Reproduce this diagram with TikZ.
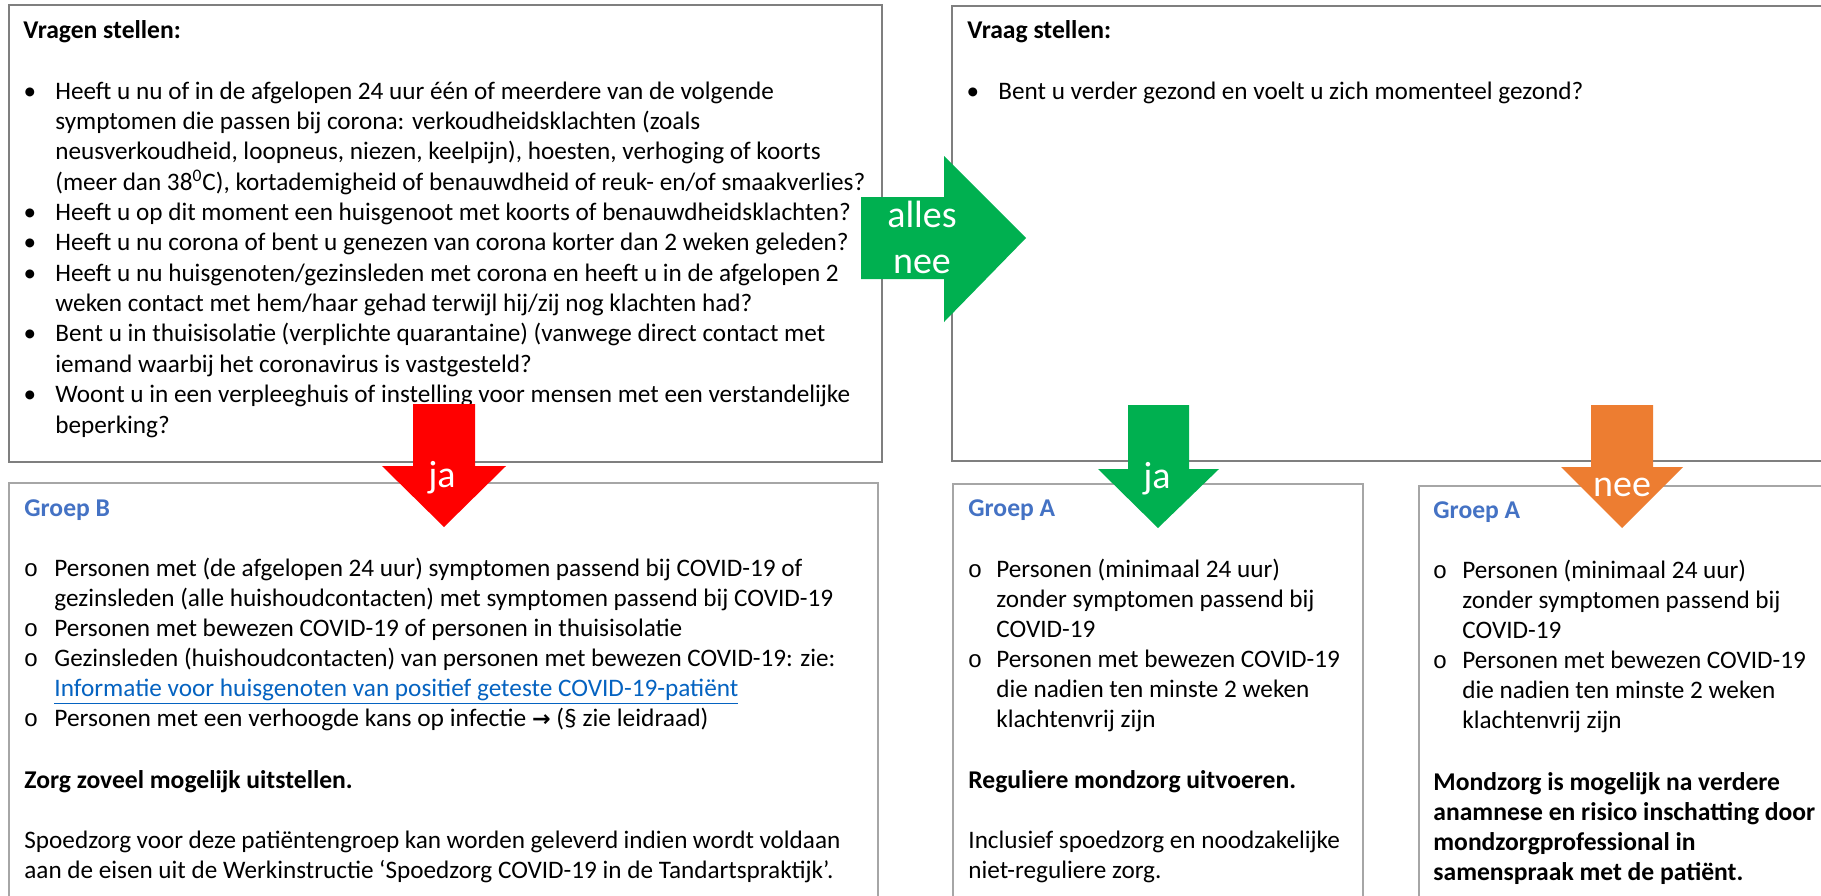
\documentclass[tikz,border=0pt]{standalone}
\usepackage{graphicx}
\usepackage{fontspec}
\setmainfont{Carlito}
\newfontfamily\symfont{DejaVu Sans}
\newfontfamily\bulfont{Liberation Mono}
\definecolor{boxdark}{HTML}{7F7F7F}
\definecolor{boxlight}{HTML}{A6A6A6}
\definecolor{groepblue}{HTML}{4472C4}
\definecolor{linkblue}{HTML}{0563C1}
\definecolor{arrgreen}{HTML}{00B050}
\definecolor{arrred}{HTML}{FF0000}
\definecolor{arrorange}{HTML}{ED7D31}
\newcommand\fitw[2]{\resizebox{#1}{\height}{#2}}
\begin{document}
\begin{tikzpicture}[x=0.5pt,y=-0.5pt,
  topbox/.style={draw=boxdark,line width=1.2pt},
  lowbox/.style={draw=boxlight,line width=0.7pt},
  txt/.style={anchor=base west,inner sep=0pt,font=\fontsize{12.6pt}{15pt}\selectfont,text=black},
  hd/.style={txt,font=\fontsize{12.8pt}{15pt}\selectfont\bfseries},
  grp/.style={hd,text=groepblue},
  dot/.style={anchor=base,inner sep=0pt,font=\fontsize{12.6pt}{15pt}\selectfont},
  ob/.style={anchor=base,inner sep=0pt,font=\fontsize{12pt}{15pt}\bulfont},
  lbl/.style={anchor=base,inner sep=0pt,text=white,font=\fontsize{19pt}{22pt}\selectfont}]
\useasboundingbox (0,0) rectangle (1821,895);
\clip (0,0) rectangle (1821,895);
\fill[white] (0,0) rectangle (1821,895);
% boxes
\draw[topbox] (9,5) rectangle (882,462);
\draw[topbox] (952,6) rectangle (1900,461);
\draw[lowbox] (9,483) rectangle (878,1000);
\draw[lowbox] (953,484) rectangle (1363,1000);
\draw[lowbox] (1419,486) rectangle (1900,1000);
% box 1
\node[hd] (q0) at (23,38) {Vragen stellen:};
\node[dot] (qb1) at (30,99) {•};
\node[txt] (q1) at (55,99) {Heeft u nu of in de afgelopen 24 uur één of meerdere van de volgende};
\node[txt] (q2) at (55,129.4) {symptomen die passen bij corona: verkoudheidsklachten (zoals};
\node[txt] (q3) at (55,159.7) {neusverkoudheid, loopneus, niezen, keelpijn), hoesten, verhoging of koorts};
\node[txt] (q4) at (55,190.1) {(meer dan 38\textsuperscript{0}C), kortademigheid of benauwdheid of reuk- en/of smaakverlies?};
\node[dot] (qb5) at (30,220.4) {•};
\node[txt] (q5) at (55,220.4) {Heeft u op dit moment een huisgenoot met koorts of benauwdheidsklachten?};
\node[dot] (qb6) at (30,250.8) {•};
\node[txt] (q6) at (55,250.8) {Heeft u nu corona of bent u genezen van corona korter dan 2 weken geleden?};
\node[dot] (qb7) at (30,281.2) {•};
\node[txt] (q7) at (55,281.2) {Heeft u nu huisgenoten/gezinsleden met corona en heeft u in de afgelopen 2};
\node[txt] (q8) at (55,311.5) {weken contact met hem/haar gehad terwijl hij/zij nog klachten had?};
\node[dot] (qb9) at (30,341.9) {•};
\node[txt] (q9) at (55,341.9) {Bent u in thuisisolatie (verplichte quarantaine) (vanwege direct contact met};
\node[txt] (q10) at (55,372.2) {iemand waarbij het coronavirus is vastgesteld?};
\node[dot] (qb11) at (30,402.6) {•};
\node[txt] (q11) at (55,402.6) {Woont u in een verpleeghuis of instelling voor mensen met een verstandelijke};
\node[txt] (q12) at (55,433) {beperking?};
% box 2
\node[hd] (v0) at (967,38) {Vraag stellen:};
\node[dot] (vb1) at (973,99) {•};
\node[txt] (v1) at (998,99) {Bent u verder gezond en voelt u zich momenteel gezond?};
% Groep B
\node[grp] (b0) at (24,516) {Groep B};
\node[ob] (bb1) at (31,576) {o};
\node[txt] (b1) at (54,576) {\fitw{374pt}{Personen met (de afgelopen 24 uur) symptomen passend bij COVID-19 of}};
\node[txt] (b2) at (54,606) {\fitw{389.5pt}{gezinsleden (alle huishoudcontacten) met symptomen passend bij COVID-19}};
\node[ob] (bb3) at (31,636) {o};
\node[txt] (b3) at (54,636) {\fitw{314pt}{Personen met bewezen COVID-19 of personen in thuisisolatie}};
\node[ob] (bb4) at (31,666) {o};
\node[txt] (b4) at (54,666) {\fitw{390.5pt}{Gezinsleden (huishoudcontacten) van personen met bewezen COVID-19: zie:}};
\node[txt,text=linkblue] (b5) at (54,696) {\fitw{342pt}{\underline{Informatie voor huisgenoten van positief geteste COVID-19-patiënt}}};
\node[ob] (bb6) at (31,726) {o};
\node[txt] (b6) at (54,726) {\fitw{327pt}{Personen met een verhoogde kans op infectie {\symfont\fontsize{11pt}{15pt}\selectfont\bfseries →} (§ zie leidraad)}};
\node[hd] (b7) at (24,788) {Zorg zoveel mogelijk uitstellen.};
\node[txt] (b8) at (24,848) {\makebox[408pt][s]{Spoedzorg voor deze patiëntengroep kan worden geleverd indien wordt voldaan}};
\node[txt] (b9) at (24,878) {\fitw{404.5pt}{aan de eisen uit de Werkinstructie ‘Spoedzorg COVID-19 in de Tandartspraktijk’.}};
% Groep A (ja)
\node[grp] (a0) at (968,516) {Groep A};
\node[ob] (ab1) at (975,577) {o};
\node[txt] (a1) at (996,577) {Personen (minimaal 24 uur)};
\node[txt] (a2) at (996,607) {zonder symptomen passend bij};
\node[txt] (a3) at (996,637) {COVID-19};
\node[ob] (ab4) at (975,667) {o};
\node[txt] (a4) at (996,667) {Personen met bewezen COVID-19};
\node[txt] (a5) at (996,697) {die nadien ten minste 2 weken};
\node[txt] (a6) at (996,727) {klachtenvrij zijn};
\node[hd] (a7) at (968,788) {Reguliere mondzorg uitvoeren.};
\node[txt] (a8) at (968,848) {Inclusief spoedzorg en noodzakelijke};
\node[txt] (a9) at (968,878) {niet-reguliere zorg.};
% Groep A (nee)
\node[grp] (c0) at (1433,518) {Groep A};
\node[ob] (cb1) at (1440,578) {o};
\node[txt] (c1) at (1462,578) {Personen (minimaal 24 uur)};
\node[txt] (c2) at (1462,608) {zonder symptomen passend bij};
\node[txt] (c3) at (1462,638) {COVID-19};
\node[ob] (cb4) at (1440,668) {o};
\node[txt] (c4) at (1462,668) {Personen met bewezen COVID-19};
\node[txt] (c5) at (1462,698) {die nadien ten minste 2 weken};
\node[txt] (c6) at (1462,728) {klachtenvrij zijn};
\node[hd] (c7) at (1433,790) {Mondzorg is mogelijk na verdere};
\node[hd] (c8) at (1433,820) {anamnese en risico inschatting door};
\node[hd] (c9) at (1433,850) {mondzorgprofessional in};
\node[hd] (c10) at (1433,880) {samenspraak met de patiënt.};
% arrows
\fill[arrgreen] (861,197) -- (944,197) -- (944,156) -- (1026,238) -- (944,322) -- (944,279) -- (861,279) -- cycle;
\node[lbl] (g1) at (922,227) {alles};
\node[lbl] (g2) at (922,273) {nee};
\fill[arrred] (413,404) -- (475,404) -- (475,466) -- (506,466) -- (444,527) -- (382,466) -- (413,466) -- cycle;
\node[lbl] (r1) at (442,487) {ja};
\fill[arrgreen] (1128,405) -- (1189,405) -- (1189,469) -- (1219,469) -- (1158,528) -- (1098,469) -- (1128,469) -- cycle;
\node[lbl] (g3) at (1157,488) {ja};
\fill[arrorange] (1591,405) -- (1653,405) -- (1653,467) -- (1683,467) -- (1622,528) -- (1561,467) -- (1591,467) -- cycle;
\node[lbl] (o1) at (1622,496) {nee};
\end{tikzpicture}
\end{document}
